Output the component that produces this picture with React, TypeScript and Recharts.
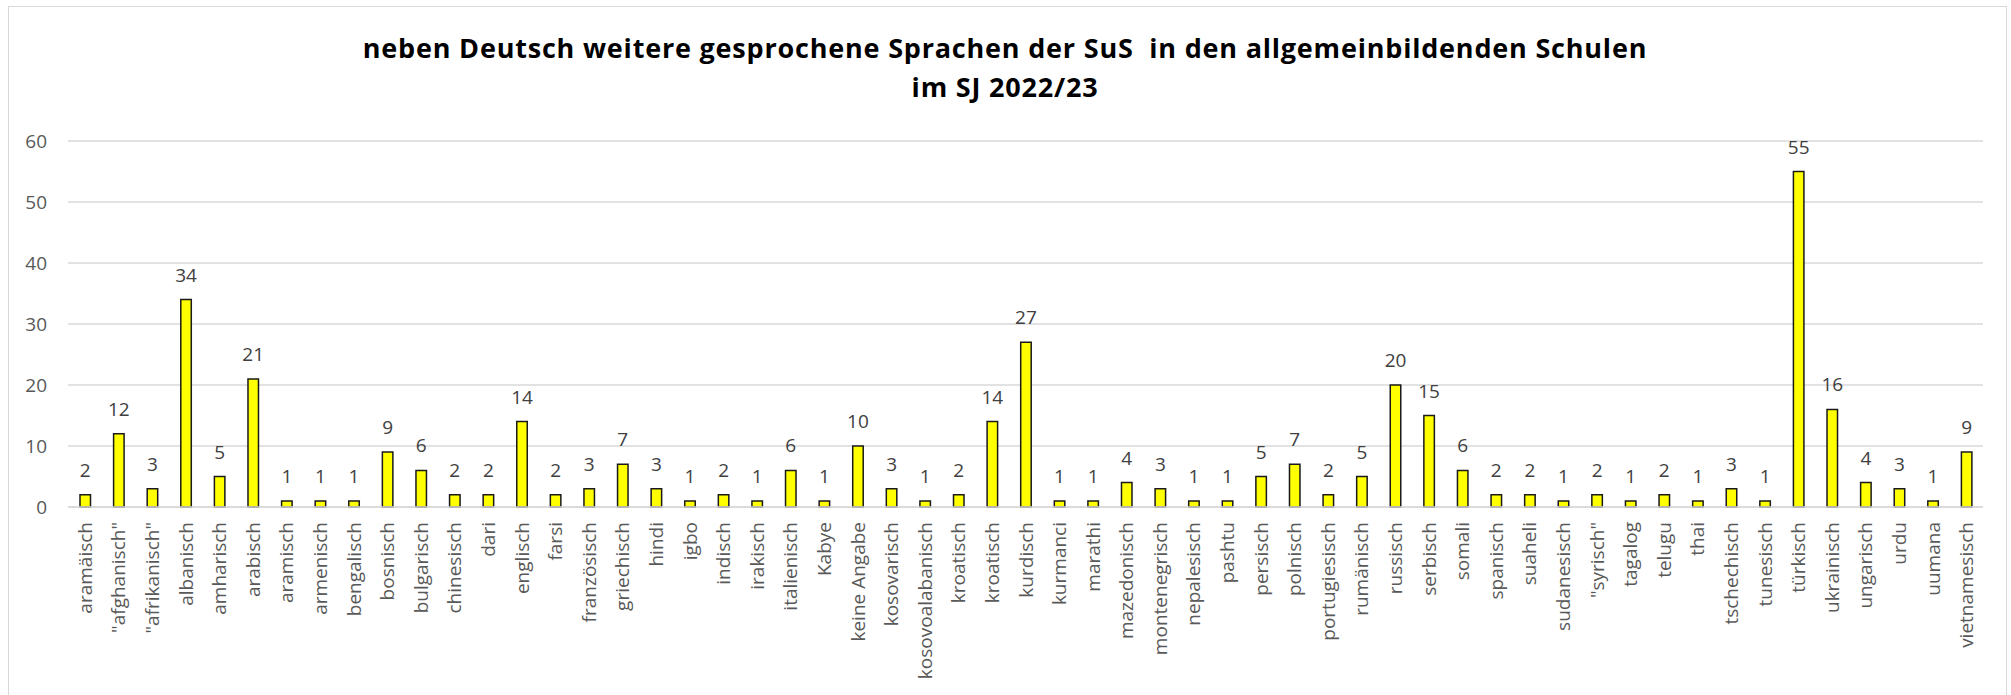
import { Bar, BarChart, CartesianGrid, LabelList, XAxis, YAxis } from "recharts";

const languages = [
  "aramäisch", "\"afghanisch\"", "\"afrikanisch\"", "albanisch", "amharisch", "arabisch",
  "aramisch", "armenisch", "bengalisch", "bosnisch", "bulgarisch", "chinesisch", "dari",
  "englisch", "farsi", "französisch", "griechisch", "hindi", "igbo", "indisch", "irakisch",
  "italienisch", "Kabye", "keine Angabe", "kosovarisch", "kosovoalabanisch", "kroatisch",
  "kroatisch", "kurdisch", "kurmanci", "marathi", "mazedonisch", "montenegrisch",
  "nepalesisch", "pashtu", "persisch", "polnisch", "portugiesisch", "rumänisch", "russisch",
  "serbisch", "somali", "spanisch", "suaheli", "sudanesisch", "\"syrisch\"", "tagalog",
  "telugu", "thai", "tschechisch", "tunesisch", "türkisch", "ukrainisch", "ungarisch",
  "urdu", "uumana", "vietnamesisch",
];

const counts = [
  2, 12, 3, 34, 5, 21, 1, 1, 1, 9, 6, 2, 2, 14, 2, 3, 7, 3, 1, 2, 1, 6, 1, 10, 3, 1, 2, 14,
  27, 1, 1, 4, 3, 1, 1, 5, 7, 2, 5, 20, 15, 6, 2, 2, 1, 2, 1, 2, 1, 3, 1, 55, 16, 4, 3, 1, 9,
];

const yTicks = [0, 10, 20, 30, 40, 50, 60];

const titleLines = [
  "neben Deutsch weitere gesprochene Sprachen der SuS  in den allgemeinbildenden Schulen",
  "im SJ 2022/23",
];

const data = languages.map((name, i) => ({ name, value: counts[i] }));

const FONT = "'Open Sans', sans-serif";

function LangTick(props: any) {
  const { x, y, payload } = props;
  return (
    <text
      x={x}
      y={y}
      transform={`rotate(-90 ${x} ${y})`}
      textAnchor="end"
      dominantBaseline="central"
      fontFamily={FONT}
      fontSize={19}
      fill="#595959"
    >
      {payload.value}
    </text>
  );
}

export default function App() {
  return (
    <div style={{ position: "absolute", left: 0, top: 0, width: 2011, height: 695, background: "#fff", overflow: "hidden" }}>
      <div
        style={{
          position: "absolute",
          left: 8,
          top: 6,
          width: 1999,
          height: 720,
          border: "1px solid #d9d9d9",
          boxSizing: "border-box",
        }}
      />
      <div
        style={{
          position: "absolute",
          left: 0,
          top: 28,
          width: 2010,
          textAlign: "center",
          fontFamily: FONT,
          fontWeight: 700,
          fontSize: 27,
          letterSpacing: 0.8,
          lineHeight: "39px",
          color: "#000",
          whiteSpace: "pre",
        }}
      >
        {titleLines.map((t, i) => (
          <div key={i}>{t}</div>
        ))}
      </div>
      <div style={{ position: "absolute", left: 0, top: 0 }}>
        <BarChart
          width={2011}
          height={695}
          data={data}
          margin={{ top: 141, right: 28, left: 8, bottom: 0 }}
          barCategoryGap={0}
        >
          <CartesianGrid vertical={false} stroke="#d9d9d9" strokeWidth={1.5} />
          <XAxis
            dataKey="name"
            interval={0}
            tick={<LangTick />}
            tickLine={false}
            tickSize={0}
            tickMargin={15}
            height={188}
            axisLine={{ stroke: "#d9d9d9", strokeWidth: 1.5 }}
          />
          <YAxis
            domain={[0, 60]}
            ticks={yTicks}
            width={60}
            axisLine={false}
            tickLine={false}
            tickSize={0}
            tickMargin={21}
            tick={{ fill: "#595959", fontSize: 19, fontFamily: FONT }}
          />
          <Bar dataKey="value" fill="#ffff00" stroke="#1a1a1a" strokeWidth={1.5} barSize={10.5} isAnimationActive={false}>
            <LabelList dataKey="value" position="top" offset={18} fill="#404040" fontSize={19} fontFamily={FONT} />
          </Bar>
        </BarChart>
      </div>
    </div>
  );
}
